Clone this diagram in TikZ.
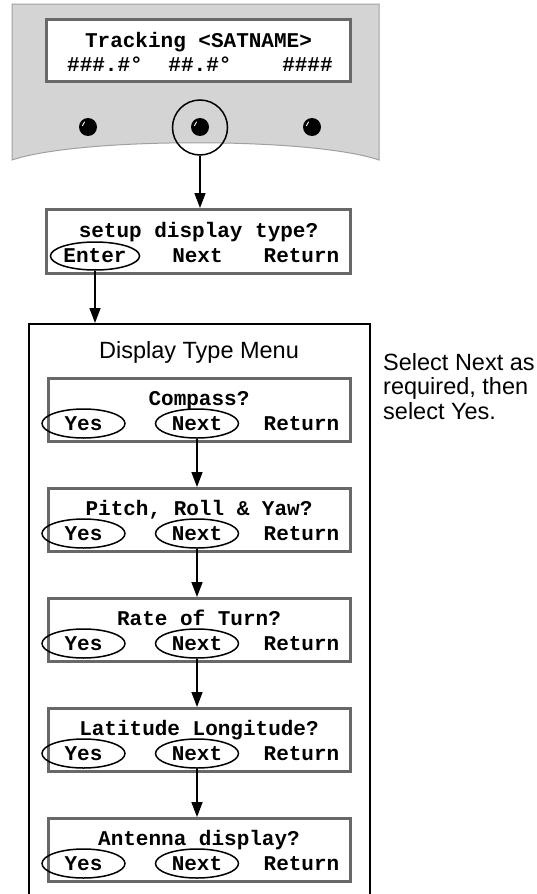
\documentclass[tikz,border=0pt]{standalone}
\usepackage{fontspec}
\setmainfont{Liberation Sans}
\newfontfamily\lcdfont{Liberation Mono}
\usetikzlibrary{arrows.meta,shapes.geometric}
\definecolor{panelgray}{HTML}{D4D4D4}
\definecolor{paneledge}{HTML}{A0A0A0}
\definecolor{lcdedge}{HTML}{686868}
\begin{document}
\begin{tikzpicture}[x=1pt,y=-1pt,
  mono/.style={font=\lcdfont\bfseries\fontsize{21}{21}\selectfont, inner sep=0pt},
  label/.style={font=\fontsize{23.5}{23.5}\selectfont, inner sep=0pt},
  lcdbox/.style={draw=lcdedge, line width=3pt, fill=white, minimum width=302, minimum height=63, inner sep=0pt},
  choice/.style={mono, ellipse, draw, line width=1.5pt, minimum width=83, minimum height=29},
  button/.style={circle, fill=black, minimum size=18, inner sep=0pt},
  arr/.style={-{Triangle[length=15pt,width=11pt]}, line width=1.6pt},
  shine/.style={white, line width=0.9pt, line cap=round}]
\useasboundingbox (0,0) rectangle (537,894);

% handset front panel
\filldraw[fill=panelgray, draw=paneledge, line width=1pt]
  (12,4) -- (379,4) -- (379,160) .. controls (312,137) and (80,137) .. (12,160) -- cycle;
\node[lcdbox, minimum width=304, minimum height=62] (lcd) at (198.5,50.5) {};
\node[mono, anchor=base] (lcd1) at (198.5,47) {Tracking <SATNAME>};
\node[mono, anchor=base] (lcd2a) at (105,71) {\#\#\#.\#°};
\node[mono, anchor=base] (lcd2b) at (200,71) {\#\#.\#°};
\node[mono, anchor=base] (lcd2c) at (307.5,71) {\#\#\#\#};

\foreach \n/\x in {bl/88, bm/200, br/312} {
  \node[button] (\n) at (\x,127) {};
  \draw[shine] ([shift={(-5.5,-1.5)}]\n.center) -- ([shift={(-3.5,-5)}]\n.center);
}
\node[circle, draw, line width=1.5pt, minimum size=55, inner sep=0pt] (sel) at (200,127.5) {};

% setup prompt
\node[lcdbox, minimum width=304, minimum height=64] (setup) at (198.5,241.5) {};
\node[mono, anchor=base] (setupq) at (198.5,237) {setup display type?};
\node[choice, minimum width=84, minimum height=28] (enter) at (95,256) {Enter};
\node[mono] (setupn) at (197.5,256) {Next};
\node[mono] (setupr) at (301.5,256) {Return};

\draw[arr] (sel.south) -- (sel.south |- setup.north);

% display type menu frame (runs off the bottom)
\node[draw, line width=1.6pt, minimum width=341, minimum height=600, inner sep=0pt, anchor=north west] (menu) at (28,323) {};
\node[label, anchor=base] (menutitle) at (199,358) {Display Type Menu};
\draw[arr] (enter.south) -- (enter.south |- menu.north);

\foreach \i/\q in {1/Compass?, 2/{Pitch, Roll \& Yaw?}, 3/Rate of Turn?, 4/Latitude Longitude?, 5/Antenna display?} {
  \pgfmathsetmacro\t{377+110*(\i-1)}
  \node[lcdbox] (m\i) at (199.5,\t+33) {};
  \node[mono, anchor=base] (m\i-q) at (199,\t+28) {\q};
  \node[choice] (m\i-y) at (83.5,\t+46.5) {Yes};
  \node[choice] (m\i-n) at (197,\t+46.5) {Next};
  \node[mono] (m\i-r) at (301.5,\t+46.5) {Return};
}
\foreach \i [evaluate=\i as \j using int(\i+1)] in {1,...,4}
  \draw[arr] (m\i-n.south) -- (m\i-n.south |- m\j.north);

% side note
\node[label, anchor=base west] (note1) at (383,370) {Select Next as};
\node[label, anchor=base west] (note2) at (383,394.5) {required, then};
\node[label, anchor=base west] (note3) at (383,419) {select Yes.};
\end{tikzpicture}
\end{document}
